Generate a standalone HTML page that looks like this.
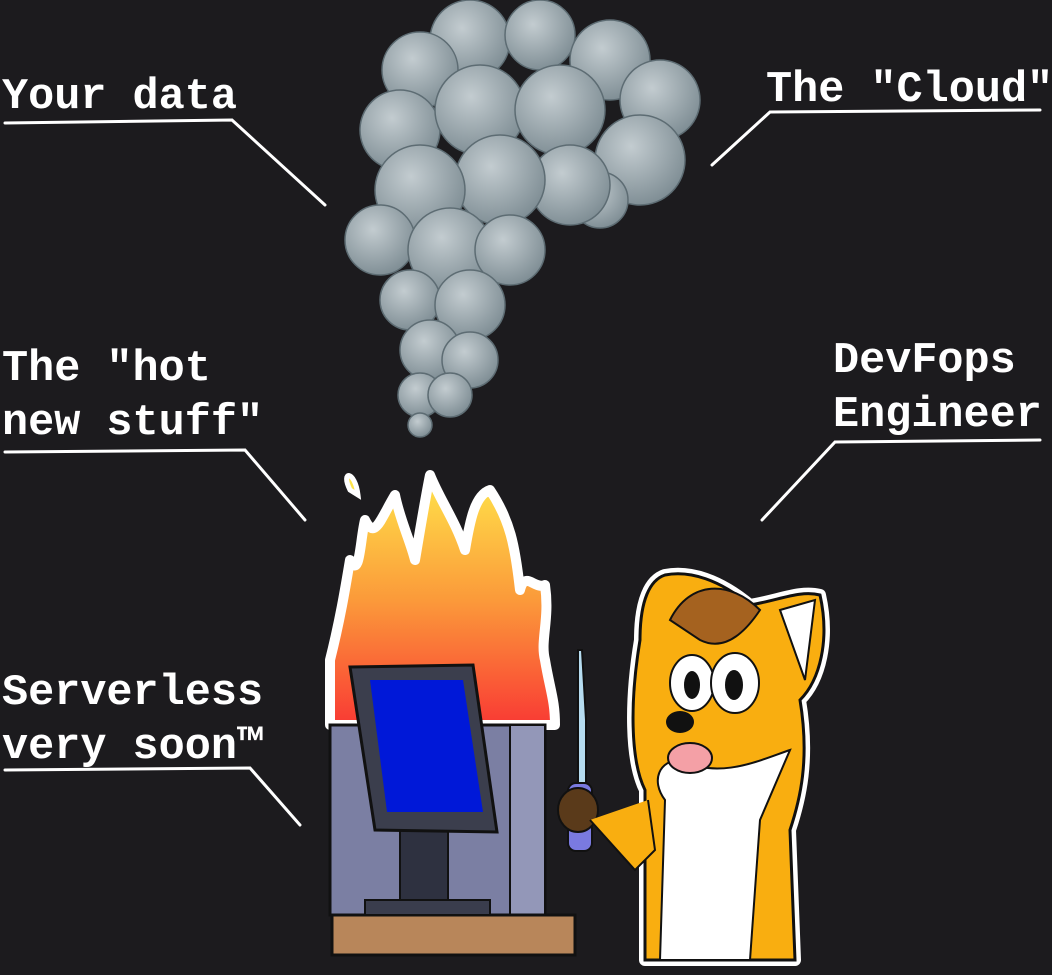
<!DOCTYPE html>
<html><head><meta charset="utf-8"><style>
html,body{margin:0;padding:0;background:#1c1b1e;width:1052px;height:975px;overflow:hidden}
svg{display:block}
text{font-family:"Liberation Mono",monospace;font-weight:bold;font-size:43.5px;fill:#fff}
</style></head><body>
<svg width="1052" height="975" viewBox="0 0 1052 975">
<defs>
<linearGradient id="fl" x1="0" y1="0" x2="0" y2="1">
<stop offset="0" stop-color="#ffe44a"/><stop offset="0.5" stop-color="#fb9a3a"/><stop offset="1" stop-color="#f93a34"/>
</linearGradient>
<radialGradient id="sm" cx="0.4" cy="0.35" r="0.7">
<stop offset="0" stop-color="#c3ccd0"/><stop offset="1" stop-color="#7c8b92"/>
</radialGradient>
</defs>
<g stroke="#fff" stroke-width="3" fill="none" stroke-linecap="round">
<polyline points="5,123 232,120 325,205"/>
<polyline points="1040,110 770,112 712,165"/>
<polyline points="5,452 245,450 305,520"/>
<polyline points="1040,440 835,442 762,520"/>
<polyline points="5,770 250,768 300,825"/>
</g>
<text x="2" y="108">Your data</text>
<text x="766" y="101">The "Cloud"</text>
<text x="2" y="380">The "hot</text>
<text x="2" y="434">new stuff"</text>
<text x="833" y="372">DevFops</text>
<text x="833" y="426">Engineer</text>
<text x="2" y="704">Serverless</text>
<text x="2" y="758">very soon™</text>
<g fill="url(#sm)" stroke="#5d6c73" stroke-width="1.5">
<circle cx="470" cy="40" r="40"/><circle cx="540" cy="35" r="35"/><circle cx="610" cy="60" r="40"/>
<circle cx="420" cy="70" r="38"/><circle cx="660" cy="100" r="40"/><circle cx="400" cy="130" r="40"/>
<circle cx="480" cy="110" r="45"/><circle cx="560" cy="110" r="45"/><circle cx="640" cy="160" r="45"/>
<circle cx="600" cy="200" r="28"/><circle cx="570" cy="185" r="40"/><circle cx="500" cy="180" r="45"/><circle cx="420" cy="190" r="45"/>
<circle cx="380" cy="240" r="35"/><circle cx="450" cy="250" r="42"/><circle cx="510" cy="250" r="35"/>
<circle cx="410" cy="300" r="30"/><circle cx="470" cy="305" r="35"/><circle cx="430" cy="350" r="30"/>
<circle cx="470" cy="360" r="28"/><circle cx="420" cy="395" r="22"/><circle cx="450" cy="395" r="22"/>
<circle cx="420" cy="425" r="12"/>
</g>
<path d="M330,725 L330,660 C340,620 345,590 350,560 C360,580 360,540 365,520 C375,540 380,520 395,495 C400,520 410,540 415,560 C420,530 425,500 430,475 C440,500 455,520 465,550 C470,520 475,495 490,490 C510,520 515,545 520,590 C525,570 535,590 545,585 C550,620 540,640 545,660 C550,690 555,700 555,725 Z" fill="url(#fl)" stroke="#fff" stroke-width="10" stroke-linejoin="round"/>
<path d="M350,490 C340,470 355,470 358,495 Z" fill="#ffe44a" stroke="#fff" stroke-width="5"/>
<rect x="330" y="725" width="215" height="190" fill="#7b7fa3" stroke="#111" stroke-width="3"/>
<rect x="510" y="725" width="35" height="190" fill="#9397b8" stroke="#111" stroke-width="2"/>
<rect x="332" y="915" width="243" height="40" fill="#b8865a" stroke="#111" stroke-width="3"/>
<rect x="400" y="828" width="48" height="75" fill="#2e3140" stroke="#111" stroke-width="2"/>
<rect x="365" y="900" width="125" height="15" fill="#3a3d4d" stroke="#111" stroke-width="2"/>
<polygon points="350,667 473,665 497,832 375,830" fill="#3b3e4d" stroke="#111" stroke-width="3"/>
<polygon points="370,680 463,680 483,812 387,812" fill="#0018d8"/>
<path d="M645,960 L645,790 C630,760 630,700 640,640 C640,600 650,580 665,575 C690,570 720,580 750,605 C780,600 800,590 820,595 C830,640 820,680 800,700 C810,760 800,800 790,830 L795,960 Z" fill="#f9ae10" stroke="#fff" stroke-width="12" stroke-linejoin="round"/>
<path d="M645,960 L645,790 C630,760 630,700 640,640 C640,600 650,580 665,575 C690,570 720,580 750,605 C780,600 800,590 820,595 C830,640 820,680 800,700 C810,760 800,800 790,830 L795,960 Z" fill="#f9ae10" stroke="#111" stroke-width="3"/>
<path d="M660,960 L665,800 C650,780 660,760 680,760 C720,780 760,760 790,750 L760,820 L750,960 Z" fill="#fff" stroke="#111" stroke-width="2"/>
<path d="M670,620 C690,580 730,580 760,610 C740,640 720,650 700,640 Z" fill="#a5621f" stroke="#111" stroke-width="2"/>
<ellipse cx="692" cy="683" rx="22" ry="28" fill="#fff" stroke="#111" stroke-width="2"/>
<ellipse cx="735" cy="683" rx="24" ry="30" fill="#fff" stroke="#111" stroke-width="2"/>
<ellipse cx="692" cy="685" rx="8" ry="14" fill="#111"/>
<ellipse cx="734" cy="685" rx="9" ry="15" fill="#111"/>
<ellipse cx="680" cy="722" rx="14" ry="11" fill="#111"/>
<ellipse cx="690" cy="758" rx="22" ry="15" fill="#f4a0a6" stroke="#111" stroke-width="2"/>
<path d="M780,610 L815,600 L805,680 Z" fill="#fff" stroke="#111" stroke-width="2"/>
<path d="M578,650 L582,650 L586,720 L586,785 L578,785 L578,720 Z" fill="#b6dcf0" stroke="#111" stroke-width="2"/>
<rect x="568" y="783" width="24" height="68" rx="8" fill="#7a7ae0" stroke="#111" stroke-width="2"/>
<ellipse cx="578" cy="810" rx="20" ry="22" fill="#5a3a1a" stroke="#111" stroke-width="2"/>
<path d="M590,820 L635,870 L655,850 L648,800" fill="#f9ae10" stroke="#111" stroke-width="2"/>
</svg>
</body></html>
